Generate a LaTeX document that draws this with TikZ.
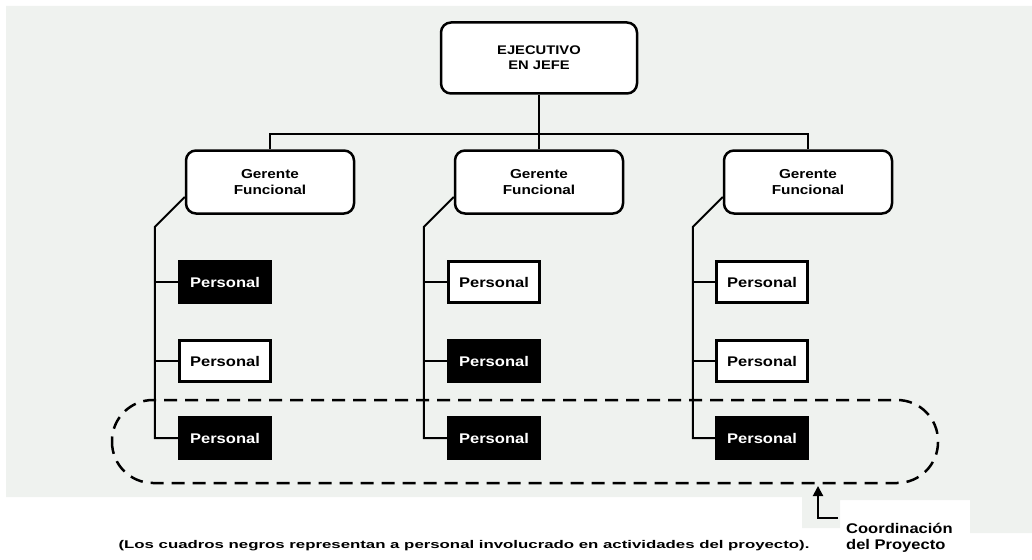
\documentclass[tikz,border=0pt]{standalone}
\usepackage{fontspec}
\setmainfont{Liberation Sans}[FakeStretch=1.18]
\newfontfamily\captionfont{Liberation Sans}[FakeStretch=1.5]
\definecolor{scan_bg}{rgb}{0.937, 0.949, 0.937}
\usetikzlibrary{arrows.meta,
                positioning,
                shapes}

\begin{document}
\begin{tikzpicture}[
			x=1pt, y=-1pt,
			boss/.style = {draw, rounded corners=10pt, line width=2.5pt, fill=white,
				minimum width=196pt, minimum height=71pt, align=center,
				font=\fontsize{12.5}{15}\selectfont\bfseries},
			manager/.style = {boss, minimum width=168pt, minimum height=63pt,
				font=\fontsize{13}{15.5}\selectfont\bfseries},
			staff/.style = {draw, line width=2.5pt, fill=white, minimum width=91pt,
				minimum height=41pt, font=\fontsize{14}{16}\selectfont\bfseries},
			staffp/.style = {staff, fill=black, text=white},
			link/.style = {line width=2pt},
			]
	\useasboundingbox (0,0) rectangle (1032,559);
	% scanned paper
	\fill[scan_bg] (6,6) -- (1032,6) -- (1032,533) -- (970,533) -- (970,500)
		-- (840,500) -- (840,528) -- (802,528) -- (802,497) -- (6,497) -- cycle;
	% project loop
	\draw[line width=2.5pt, dash pattern=on 13pt off 8pt, rounded corners=41pt]
		(112,400) rectangle (938,483);
	\coordinate (cp) at (818,486);

	\node[boss] (ceo) at (539,58) {EJECUTIVO\\EN JEFE};
	\node[manager] (ger1) at (270,182) {Gerente\\Funcional};
	\node[manager] (ger2) at (539,182) {Gerente\\Funcional};
	\node[manager] (ger3) at (808,182) {Gerente\\Funcional};

	\node[staffp] (p11) at (225,282) {Personal};
	\node[staff] (p12) at (225,361) {Personal};
	\node[staffp] (p13) at (225,438) {Personal};
	\node[staff] (p21) at (494,282) {Personal};
	\node[staffp] (p22) at (494,361) {Personal};
	\node[staffp] (p23) at (494,438) {Personal};
	\node[staff] (p31) at (762,282) {Personal};
	\node[staff] (p32) at (762,361) {Personal};
	\node[staffp] (p33) at (762,438) {Personal};

	\draw[link] (ceo.south) -- (ger2.north);
	\draw[link] (ger1.north) -- ++(0,-15) -| (ger3.north);

	\draw[link] ([yshift=-15pt]ger1.west) -- ++(-30,30) coordinate (s1) |- (p13.west);
	\draw[link] (s1 |- p11.west) -- (p11.west);
	\draw[link] (s1 |- p12.west) -- (p12.west);
	\draw[link] ([yshift=-15pt]ger2.west) -- ++(-30,30) coordinate (s2) |- (p23.west);
	\draw[link] (s2 |- p21.west) -- (p21.west);
	\draw[link] (s2 |- p22.west) -- (p22.west);
	\draw[link] ([yshift=-15pt]ger3.west) -- ++(-30,30) coordinate (s3) |- (p33.west);
	\draw[link] (s3 |- p31.west) -- (p31.west);
	\draw[link] (s3 |- p32.west) -- (p32.west);

	\node[anchor=north west, align=left, inner xsep=8pt, inner ysep=5pt,
		font=\fontsize{14}{16}\selectfont\bfseries] (coord) at (838,518)
		{Coordinación\\del Proyecto};
	\draw[link, -{Triangle[width=10pt,length=10pt]}] (coord.north west) -| (cp);

	\node[font=\captionfont\fontsize{11.2}{13}\selectfont\bfseries] (note) at (464,546)
		{(Los cuadros negros representan a personal involucrado en actividades del proyecto).};
\end{tikzpicture}
\end{document}
